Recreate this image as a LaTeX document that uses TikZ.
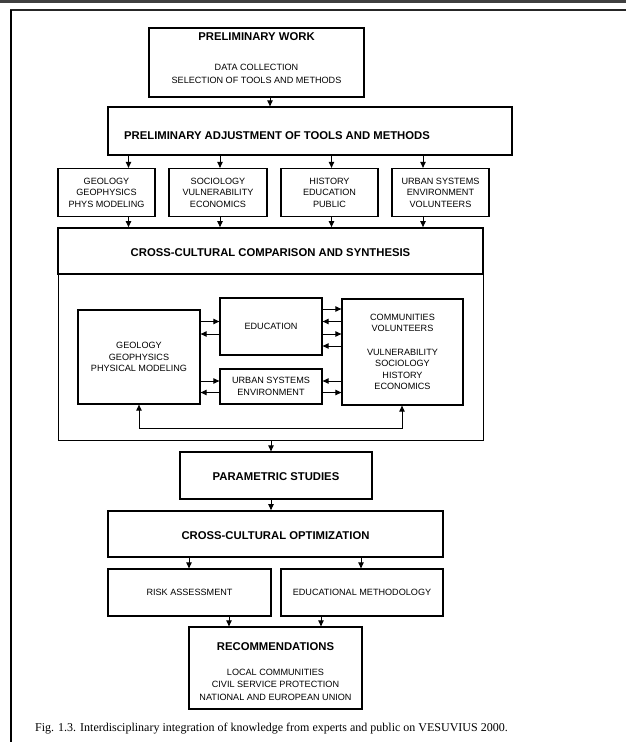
\documentclass[tikz,border=0pt]{standalone}
\usepackage{fontspec}
\setmainfont{Liberation Serif}
\setsansfont{Liberation Sans}
\usetikzlibrary{arrows.meta}
\begin{document}
\begin{tikzpicture}[x=1pt,y=-1pt,
  box/.style={draw, line width=1.3pt, inner sep=0pt, align=center, font=\sffamily\fontsize{9.1}{11.6}\selectfont},
  thickbox/.style={box, line width=1.8pt},
  ttl/.style={font=\sffamily\bfseries\fontsize{11.3}{12}\selectfont},
  arr/.style={line width=0.9pt, -{Triangle[length=6pt,width=5.5pt]}},
  darr/.style={line width=0.9pt, {Triangle[length=6pt,width=5.5pt]}-{Triangle[length=6pt,width=5.5pt]}}
]
\useasboundingbox (0,0) rectangle (626,742);
\fill[black!75] (0,0) rectangle (626,3);
\draw[line width=2pt, black!85] (10,10) -- (626,10);
\draw[line width=2pt] (11,10) -- (11,742);

% nodes
\node[box, minimum width=215, minimum height=69] (pw) at (256.5,62.5) {};
\node[ttl] (pwt) at (256.5,37) {PRELIMINARY WORK};
\node[font=\sffamily\fontsize{9.1}{13.5}\selectfont, align=center] (pwl) at (256.5,74) {DATA COLLECTION\\SELECTION OF TOOLS AND METHODS};

\node[box, minimum width=404, minimum height=48] (padj) at (310,131) {};
\node[ttl] (padjt) at (277,136) {PRELIMINARY ADJUSTMENT OF TOOLS AND METHODS};

\node[box, minimum width=97, minimum height=48] (b1) at (106.5,192.5) {GEOLOGY\\GEOPHYSICS\\PHYS MODELING};
\node[box, minimum width=98, minimum height=48] (b2) at (218,192.5) {SOCIOLOGY\\VULNERABILITY\\ECONOMICS};
\node[box, minimum width=97, minimum height=48] (b3) at (329.5,192.5) {HISTORY\\EDUCATION\\PUBLIC};
\node[box, minimum width=97, minimum height=48] (b4) at (440.5,192.5) {URBAN SYSTEMS\\ENVIRONMENT\\VOLUNTEERS};

\node[draw, line width=0.9pt, minimum width=425, minimum height=166, inner sep=0pt] (cont) at (270.5,357) {};
\node[thickbox, minimum width=425, minimum height=46] (ccs) at (270.5,251) {};
\node[ttl] (ccst) at (270.5,253) {CROSS-CULTURAL COMPARISON AND SYNTHESIS};

\node[box, minimum width=102, minimum height=57] (edu) at (271,326.5) {EDUCATION};
\node[box, minimum width=122, minimum height=94] (geo) at (139,357) {GEOLOGY\\GEOPHYSICS\\PHYSICAL MODELING};
\node[box, minimum width=102, minimum height=35] (urb) at (271,386.5) {URBAN SYSTEMS\\ENVIRONMENT};
\node[box, minimum width=121, minimum height=106] (com) at (402.5,352) {COMMUNITIES\\VOLUNTEERS\\[11.6pt]VULNERABILITY\\SOCIOLOGY\\HISTORY\\ECONOMICS};

\node[box, minimum width=192, minimum height=47] (par) at (276,475.5) {};
\node[ttl] (part) at (276,477) {PARAMETRIC STUDIES};

\node[thickbox, minimum width=335, minimum height=46] (opt) at (275.5,534) {};
\node[ttl] (optt) at (275.5,536) {CROSS-CULTURAL OPTIMIZATION};

\node[box, minimum width=163, minimum height=47] (risk) at (189.5,592.5) {RISK ASSESSMENT};
\node[box, minimum width=162, minimum height=47] (edm) at (362,592.5) {EDUCATIONAL METHODOLOGY};

\node[box, minimum width=173, minimum height=82] (rec) at (275.5,668) {};
\node[ttl] (rect) at (275.5,647) {RECOMMENDATIONS};
\node[font=\sffamily\fontsize{9.1}{12.5}\selectfont, align=center] (recl) at (275.5,684.5) {LOCAL COMMUNITIES\\CIVIL SERVICE PROTECTION\\NATIONAL AND EUROPEAN UNION};

\node[font=\rmfamily\fontsize{12}{13}\selectfont, anchor=base] (cap) at (271.5,731) {Fig. 1.3. Interdisciplinary integration of knowledge from experts and public on VESUVIUS 2000.};

% column / row coordinates
\coordinate (xa) at (270,0);
\coordinate (x1) at (128.5,0);
\coordinate (x2) at (220,0);
\coordinate (x3) at (331.5,0);
\coordinate (x4) at (423,0);
\coordinate (xm) at (271,0);
\coordinate (xr) at (189,0);
\coordinate (xe) at (361,0);
\coordinate (xq1) at (229,0);
\coordinate (xq2) at (321,0);
\coordinate (xg) at (139,0);
\coordinate (xc) at (402,0);
\coordinate (yl) at (0,428);
\coordinate (r1) at (0,309);
\coordinate (r2) at (0,321.5);
\coordinate (r3) at (0,334);
\coordinate (r4) at (0,346);
\coordinate (r5) at (0,381);
\coordinate (r6) at (0,392.5);

% arrows
\draw[arr] (xa |- pw.south) -- (xa |- padj.north);
\foreach \c/\b in {x1/b1,x2/b2,x3/b3,x4/b4}{
  \draw[arr] (\c |- padj.south) -- (\c |- \b.north);
  \draw[arr] (\c |- \b.south) -- (\c |- ccs.north);
}
\draw[arr] (geo.east |- r2) -- (edu.west |- r2);
\draw[arr] (edu.west |- r3) -- (geo.east |- r3);
\draw[arr] (edu.east |- r1) -- (com.west |- r1);
\draw[arr] (com.west |- r2) -- (edu.east |- r2);
\draw[arr] (edu.east |- r3) -- (com.west |- r3);
\draw[arr] (com.west |- r4) -- (edu.east |- r4);
\draw[arr] (geo.east |- r5) -- (urb.west |- r5);
\draw[arr] (urb.west |- r6) -- (geo.east |- r6);
\draw[arr] (com.west |- r5) -- (urb.east |- r5);
\draw[arr] (urb.east |- r6) -- (com.west |- r6);
\draw[darr] (xg |- geo.south) -- (xg |- yl) -- (xc |- yl) -- (xc |- com.south);

\draw[arr] (xm |- cont.south) -- (xm |- par.north);
\draw[arr] (xm |- par.south) -- (xm |- opt.north);
\draw[arr] (xr |- opt.south) -- (xr |- risk.north);
\draw[arr] (xe |- opt.south) -- (xe |- edm.north);
\draw[arr] (xq1 |- risk.south) -- (xq1 |- rec.north);
\draw[arr] (xq2 |- edm.south) -- (xq2 |- rec.north);
\end{tikzpicture}
\end{document}
